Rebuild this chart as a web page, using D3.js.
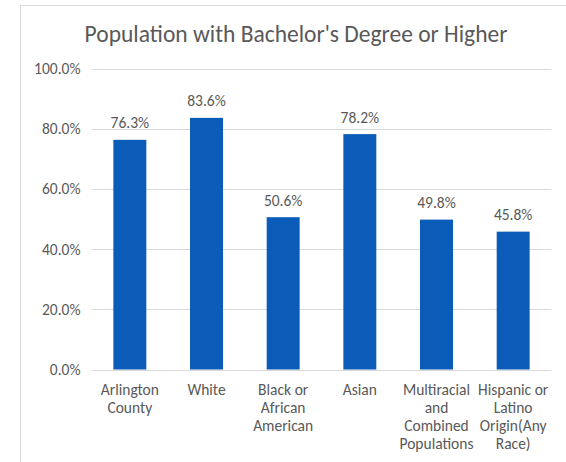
<!DOCTYPE html>
<html><head><meta charset="utf-8">
<script src="https://cdn.jsdelivr.net/npm/d3@7"></script>
<style>body{margin:0;background:#fff}svg{display:block}</style>
</head><body>
<script>
const categories = [["Arlington","County"],["White"],["Black or","African","American"],["Asian"],["Multiracial","and","Combined","Populations"],["Hispanic or","Latino","Origin(Any","Race)"]];
const values = [76.3, 83.6, 50.6, 78.2, 49.8, 45.8];
const yTicks = [0, 20, 40, 60, 80, 100];
const title = "Population with Bachelor's Degree or Higher";

(function(){
const W = 566, H = 462;
const font = "Carlito, Calibri, 'Open Sans', sans-serif";
const svg = d3.select("body").append("svg").attr("width", W).attr("height", H);

// chart border
svg.append("rect").attr("x", 20.5).attr("y", 5.5).attr("width", 580).attr("height", 480)
  .attr("fill", "none").attr("stroke", "#d9d9d9").attr("stroke-width", 1);

const pl = 91.5, pr = 551.5, pt = 68.5, pb = 369.5;
const x = d3.scaleBand().domain(d3.range(values.length)).range([pl, pr])
  .paddingInner(0.57).paddingOuter(0.285);
const y = d3.scaleLinear().domain([0, 100]).range([pb, pt]);

svg.append("text").attr("x", 296).attr("y", 42).attr("text-anchor", "middle")
  .attr("font-family", font).attr("font-size", 23.5).attr("fill", "#595959").text(title);

// gridlines
svg.append("g").selectAll("line").data(yTicks).join("line")
  .attr("x1", pl).attr("x2", pr)
  .attr("y1", d => Math.round(y(d)) + 0.5).attr("y2", d => Math.round(y(d)) + 0.5)
  .attr("stroke", "#d9d9d9").attr("stroke-width", 1);

// y axis labels
const yAxis = d3.axisLeft(y).tickValues(yTicks).tickFormat(d => d.toFixed(1) + "%").tickSize(0).tickPadding(11);
const ya = svg.append("g").attr("transform", `translate(${pl},0)`).call(yAxis);
ya.select(".domain").remove();
ya.selectAll("text").attr("font-family", font).attr("font-size", 15.5).attr("fill", "#595959");

// bars
svg.append("g").selectAll("rect").data(values).join("rect")
  .attr("x", (d, i) => x(i)).attr("width", x.bandwidth())
  .attr("y", d => y(d)).attr("height", d => y(0) - y(d))
  .attr("fill", "#0A5CB8");

// data labels
svg.append("g").selectAll("text").data(values).join("text")
  .attr("x", (d, i) => x(i) + x.bandwidth() / 2).attr("y", d => y(d) - 11.5)
  .attr("text-anchor", "middle").attr("font-family", font).attr("font-size", 15.5)
  .attr("fill", "#595959").text(d => d.toFixed(1) + "%");

// category labels
const cg = svg.append("g").selectAll("text").data(categories).join("text")
  .attr("x", (d, i) => x(i) + x.bandwidth() / 2).attr("y", 394.5)
  .attr("text-anchor", "middle").attr("font-family", font).attr("font-size", 15.5).attr("fill", "#595959");
cg.selectAll("tspan").data(d => d).join("tspan")
  .attr("x", function(){ return this.parentNode.getAttribute("x"); })
  .attr("dy", (d, i) => i === 0 ? 0 : 18).text(d => d);
})();
</script>
</body></html>
